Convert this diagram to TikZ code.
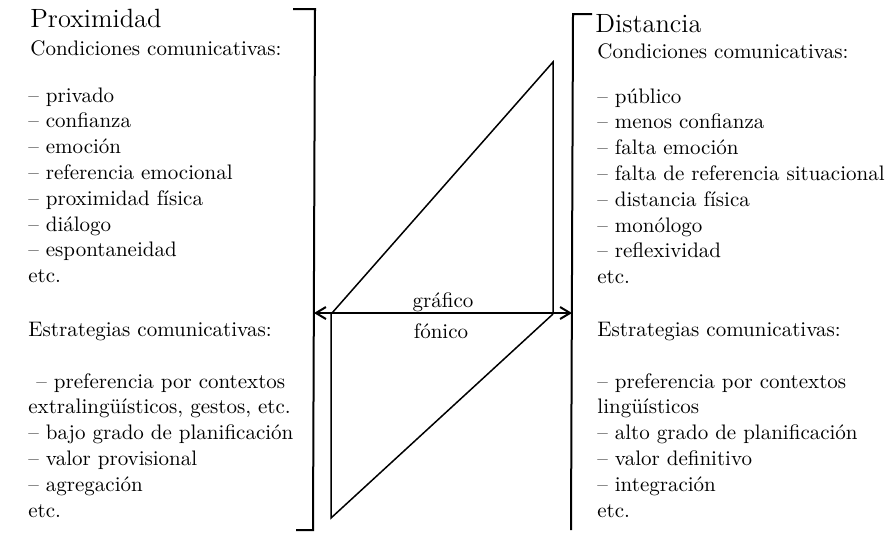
\documentclass[tikz,border=0pt]{standalone}
\usepackage{tikz}
\usetikzlibrary{arrows.meta}

\tikzset{
  linea/.style={anchor=base west, inner sep=0pt, font=\fontsize{10.5}{13}\selectfont},
  titulo/.style={anchor=base west, inner sep=0pt, font=\fontsize{13.2}{16}\selectfont},
  rotulo/.style={anchor=base, inner sep=0pt, font=\fontsize{10.5}{13}\selectfont},
  corchete/.style={line width=1pt},
  trazo/.style={line width=0.75pt}
}

\begin{document}
\begin{tikzpicture}[x=0.5pt, y=-0.5pt]
          \useasboundingbox (0, 0) rectangle (892, 532);

          % corchetes
          \draw[corchete] (293, 9) -- (315, 9) -- (313, 530) -- (296, 530);
          \draw[corchete] (592, 14) -- (573, 14) -- (571, 530);

          \coordinate (izq) at (314, 313);
          \coordinate (der) at (572, 313);
          \coordinate (graf-a) at (332, 313);
          \coordinate (graf-b) at (553, 62);
          \coordinate (graf-c) at (553, 313);
          \coordinate (fon-a) at (331, 313);
          \coordinate (fon-b) at (331, 518);
          \coordinate (fon-c) at (553, 314);

          \draw[trazo] (graf-a) -- (graf-b) -- (graf-c);
          \draw[trazo] (fon-a) -- (fon-b) -- (fon-c);
          \draw[line width=1pt, {Straight Barb[length=5pt, width=6pt]}-{Straight Barb[length=5pt, width=6pt]}] (izq) -- (der);

          \node[rotulo] (grafico) at (443, 307) {gráfico};
          \node[rotulo] (fonico) at (441, 338) {fónico};

          % proximidad
          \node[titulo] (prox) at (30, 27) {Proximidad};
          \node[linea] (prox-cond) at (30, 55) {Condiciones comunicativas:};
          \node[linea] (prox-c1) at (28, 102) {-- privado};
          \node[linea] (prox-c2) at (28, 127.8) {-- confianza};
          \node[linea] (prox-c3) at (28, 153.6) {-- emoción};
          \node[linea] (prox-c4) at (28, 179.4) {-- referencia emocional};
          \node[linea] (prox-c5) at (28, 205.2) {-- proximidad física};
          \node[linea] (prox-c6) at (28, 231) {-- diálogo};
          \node[linea] (prox-c7) at (28, 256.8) {-- espontaneidad};
          \node[linea] (prox-c8) at (28, 282.6) {etc.};

          \node[linea] (prox-estr) at (28, 336) {Estrategias comunicativas:};
          \node[linea] (prox-e1) at (36, 388) {-- preferencia por contextos};
          \node[linea] (prox-e2) at (28, 413.8) {extralingüísticos, gestos, etc.};
          \node[linea] (prox-e3) at (28, 439.6) {-- bajo grado de planificación};
          \node[linea] (prox-e4) at (28, 465.4) {-- valor provisional};
          \node[linea] (prox-e5) at (28, 491.2) {-- agregación};
          \node[linea] (prox-e6) at (28, 517) {etc.};

          % distancia
          \node[titulo] (dist) at (595, 32) {Distancia};
          \node[linea] (dist-cond) at (597, 58) {Condiciones comunicativas:};
          \node[linea] (dist-c1) at (597, 103) {-- público};
          \node[linea] (dist-c2) at (597, 128.8) {-- menos confianza};
          \node[linea] (dist-c3) at (597, 154.6) {-- falta emoción};
          \node[linea] (dist-c4) at (597, 180.4) {-- falta de referencia situacional};
          \node[linea] (dist-c5) at (597, 206.2) {-- distancia física};
          \node[linea] (dist-c6) at (597, 232) {-- monólogo};
          \node[linea] (dist-c7) at (597, 257.8) {-- reflexividad};
          \node[linea] (dist-c8) at (597, 283.6) {etc.};

          \node[linea] (dist-estr) at (597, 336) {Estrategias comunicativas:};
          \node[linea] (dist-e1) at (597, 388) {-- preferencia por contextos};
          \node[linea] (dist-e2) at (597, 413.8) {lingüísticos};
          \node[linea] (dist-e3) at (597, 439.6) {-- alto grado de planificación};
          \node[linea] (dist-e4) at (597, 465.4) {-- valor definitivo};
          \node[linea] (dist-e5) at (597, 491.2) {-- integración};
          \node[linea] (dist-e6) at (597, 517) {etc.};
        \end{tikzpicture}
\end{document}
